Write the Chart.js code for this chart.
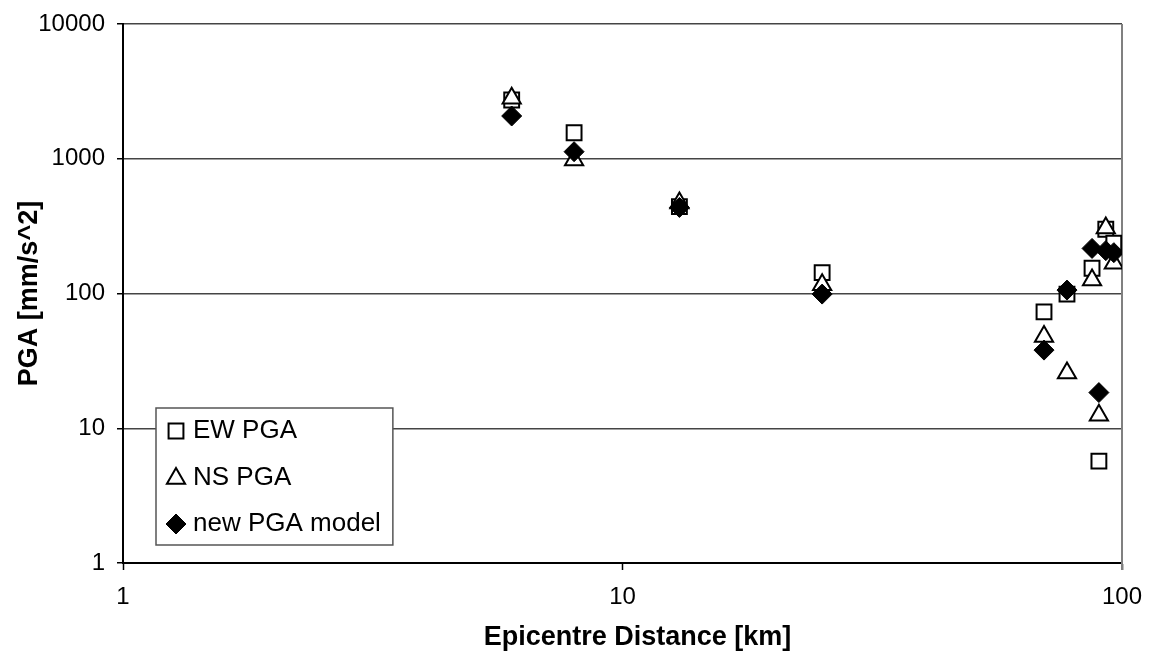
<!DOCTYPE html>
<html>
<head>
<meta charset="utf-8">
<script src="https://cdn.jsdelivr.net/npm/chart.js@4.4.0/dist/chart.umd.min.js"></script>
<style>
  html, body { margin: 0; padding: 0; background: #fff; }
</style>
</head>
<body>
<canvas id="pga" width="1149" height="655"></canvas>
<script>
// values (log-log plot)
const distances = [6.0, 8.0, 13.0, 25.1, 69.8, 77.6, 87.1, 89.9, 92.8, 96.3];
const ewPga = [2730, 1560, 441, 143, 73, 99, 154, 5.7, 300, 236];
const nsPga = [2810, 979, 469, 116, 48, 25.7, 126, 12.5, 306, 168];
const modelPga = [2076, 1128, 435, 99, 38, 106, 216, 18.4, 208, 201];
const seriesNames = ["EW PGA", "NS PGA", "new PGA model"];
const xTicks = [1, 10, 100];
const yTicks = [1, 10, 100, 1000, 10000];
const xTitle = "Epicentre Distance [km]";
const yTitle = "PGA [mm/s^2]";

const FONT = "'Liberation Sans', Arial, sans-serif";

const points = (ys) => distances.map((d, i) => ({ x: d, y: ys[i] }));

// gray right edge of the plot area (top edge is the 10000 gridline)
const plotFrame = {
  id: "plotFrame",
  beforeDatasetsDraw(chart) {
    const { ctx, chartArea: a } = chart;
    ctx.save();
    ctx.strokeStyle = "#808080";
    ctx.lineWidth = 2;
    ctx.beginPath();
    ctx.moveTo(a.right, a.top);
    ctx.lineTo(a.right, a.bottom + 7);
    ctx.stroke();
    ctx.restore();
  },
};

// axis titles - drawn by hand so they sit where the original put them
const axisTitles = {
  id: "axisTitles",
  afterDraw(chart) {
    const { ctx, chartArea: a } = chart;
    ctx.save();
    ctx.fillStyle = "#000";
    ctx.font = "bold 27px " + FONT;
    ctx.textAlign = "center";
    ctx.textBaseline = "middle";
    ctx.fillText(xTitle, (a.left + a.right) / 2 + 15, 638);
    ctx.translate(30, (a.top + a.bottom) / 2);
    ctx.rotate(-Math.PI / 2);
    ctx.fillText(yTitle, 0, 0);
    ctx.restore();
  },
};

// boxed legend inside the lower-left of the plot, like the original
const boxLegend = {
  id: "boxLegend",
  afterDraw(chart) {
    const { ctx, chartArea: a } = chart;
    ctx.save();
    ctx.font = "26px " + FONT;
    const textW = Math.max(...chart.data.datasets.map((ds) => ctx.measureText(ds.label).width));
    const left = a.left + 33, top = 408, bottom = a.bottom - 18;
    const textX = left + 37;
    const w = textX - left + textW + 12;
    ctx.fillStyle = "#fff";
    ctx.fillRect(left, top, w, bottom - top);
    ctx.strokeStyle = "#555";
    ctx.lineWidth = 1.5;
    ctx.strokeRect(left, top, w, bottom - top);
    ctx.textBaseline = "middle";
    chart.data.datasets.forEach((ds, i) => {
      const cy = top + 22 + i * 46.5;
      ctx.fillStyle = ds.pointBackgroundColor;
      ctx.strokeStyle = ds.pointBorderColor;
      ctx.lineWidth = ds.pointBorderWidth;
      Chart.helpers.drawPoint(ctx, {
        pointStyle: ds.pointStyle,
        radius: ds.pointRadius,
        rotation: 0,
        borderWidth: ds.pointBorderWidth,
      }, left + 20, cy + (ds.pointStyle === "triangle" ? 2 : 1));
      ctx.fillStyle = "#000";
      ctx.fillText(ds.label, textX, cy + 1);
    });
    ctx.restore();
  },
};

new Chart(document.getElementById("pga"), {
  type: "scatter",
  data: {
    datasets: [
      {
        label: seriesNames[0],
        data: points(ewPga),
        pointStyle: "rect",
        pointRadius: 10.5,
        pointBackgroundColor: "#fff",
        pointBorderColor: "#000",
        pointBorderWidth: 2,
        order: 3,
      },
      {
        label: seriesNames[1],
        data: points(nsPga),
        pointStyle: "triangle",
        pointRadius: 10.5,
        pointBackgroundColor: "#fff",
        pointBorderColor: "#000",
        pointBorderWidth: 2,
        order: 2,
      },
      {
        label: seriesNames[2],
        data: points(modelPga),
        pointStyle: "rectRot",
        pointRadius: 10,
        pointBackgroundColor: "#000",
        pointBorderColor: "#000",
        pointBorderWidth: 1,
        order: 1,
      },
    ],
  },
  options: {
    responsive: false,
    devicePixelRatio: 1,
    animation: false,
    layout: { padding: { top: 24, right: 27, bottom: 0, left: 0 } },
    plugins: { legend: { display: false }, tooltip: { enabled: false } },
    scales: {
      x: {
        type: "logarithmic",
        min: 1,
        max: 100,
        afterBuildTicks: (s) => { s.ticks = xTicks.map((v) => ({ value: v })); },
        afterFit: (s) => { s.height = 92; s.paddingLeft = 0; s.paddingRight = 0; },
        grid: { drawOnChartArea: false, drawTicks: true, tickLength: 7, tickColor: "#000", tickWidth: 1.5 },
        border: { color: "#000", width: 2 },
        ticks: {
          color: "#000",
          font: { family: FONT, size: 24 },
          padding: 13,
          maxRotation: 0,
          autoSkip: false,
          callback: (v) => String(v),
        },
      },
      y: {
        type: "logarithmic",
        min: 1,
        max: 10000,
        afterBuildTicks: (s) => { s.ticks = yTicks.map((v) => ({ value: v })); },
        afterFit: (s) => { s.width = 123; s.paddingTop = 0; s.paddingBottom = 0; },
        grid: { color: "#444", lineWidth: 1.5, drawTicks: true, tickLength: 6, tickColor: "#000", tickWidth: 1.5 },
        border: { color: "#000", width: 2 },
        ticks: {
          color: "#000",
          font: { family: FONT, size: 24 },
          padding: 12,
          autoSkip: false,
          callback: (v) => String(v),
        },
      },
    },
  },
  plugins: [plotFrame, axisTitles, boxLegend],
});
</script>
</body>
</html>
